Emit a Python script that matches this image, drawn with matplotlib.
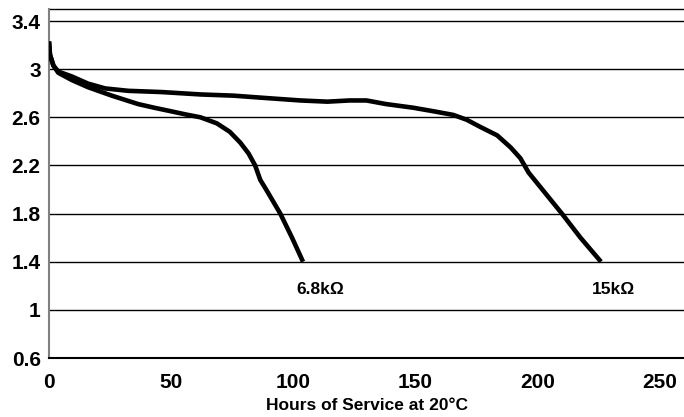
import matplotlib
matplotlib.use("Agg")
import matplotlib.pyplot as plt

# Data
hours_15k = [0, 0.4, 1.8, 3.8, 9.3, 16, 23, 32.5, 46, 62, 75.5, 89, 103, 114, 123, 130, 138,
             149, 157.5, 165.5, 171, 176.6, 183.5, 189, 193, 196.4, 201.2, 210, 217.6, 226]
volts_15k = [3.23, 3.12, 3.03, 2.98, 2.94, 2.88, 2.84, 2.82, 2.81, 2.79, 2.78, 2.76, 2.74, 2.73, 2.74, 2.74, 2.71,
             2.68, 2.65, 2.62, 2.58, 2.52, 2.45, 2.35, 2.26, 2.14, 2.02, 1.80, 1.60, 1.40]

hours_68k = [0, 0.4, 1.8, 3.8, 9.3, 16, 25.7, 36.5, 43, 50, 55.7, 62, 68.7, 74, 78.3, 81.7, 84.4,
             86.5, 89.2, 94.7, 99.5, 104]
volts_68k = [3.23, 3.12, 3.03, 2.97, 2.91, 2.85, 2.78, 2.71, 2.68, 2.65, 2.625, 2.60, 2.55, 2.48, 2.39, 2.30, 2.20,
             2.08, 1.99, 1.80, 1.60, 1.40]

x_ticks = [0, 50, 100, 150, 200, 250]
y_ticks = [0.6, 1, 1.4, 1.8, 2.2, 2.6, 3, 3.4]
y_tick_labels = ["0.6", "1", "1.4", "1.8", "2.2", "2.6", "3", "3.4"]
label_68k = "6.8kΩ"
label_15k = "15kΩ"
x_label = "Hours of Service at 20°C"

plt.rcParams['font.family'] = ['Liberation Sans', 'DejaVu Sans']

fig = plt.figure(figsize=(6.84, 4.17), dpi=100)
ax = fig.add_axes([49/684, 1-358/417, 1-49/684, (358-9)/417])

ax.set_xlim(0, 260)
ax.set_ylim(0.6, 3.5)

for y in y_ticks[1:]:
    ax.axhline(y, color='black', linewidth=1.0, zorder=1)

ax.plot(hours_15k, volts_15k, color='black', linewidth=3.3,
        solid_capstyle='butt', solid_joinstyle='round', zorder=3)
ax.plot(hours_68k, volts_68k, color='black', linewidth=3.3,
        solid_capstyle='butt', solid_joinstyle='round', zorder=3)

ax.set_xticks(x_ticks)
ax.set_xticklabels([str(v) for v in x_ticks], fontsize=15, fontweight='bold')
ax.set_yticks(y_ticks)
ax.set_yticklabels(y_tick_labels, fontsize=15, fontweight='bold')
ax.tick_params(axis='x', length=0, pad=11)
ax.tick_params(axis='y', length=0, pad=6)

for s in ['top', 'right']:
    ax.spines[s].set_visible(False)
ax.spines['left'].set_color('#808080')
ax.spines['left'].set_linewidth(1.5)
ax.spines['bottom'].set_color('black')
ax.spines['bottom'].set_linewidth(1.5)
ax.axhline(3.5, color='black', linewidth=1.0, zorder=1, clip_on=False)

ax.set_xlabel(x_label, fontsize=12.5, fontweight='bold', labelpad=4)

ax.text(111, 1.17, label_68k, fontsize=12.5, fontweight='bold', ha='center', va='center')
ax.text(231, 1.17, label_15k, fontsize=12.5, fontweight='bold', ha='center', va='center')

fig.savefig("out.png", dpi=100)
